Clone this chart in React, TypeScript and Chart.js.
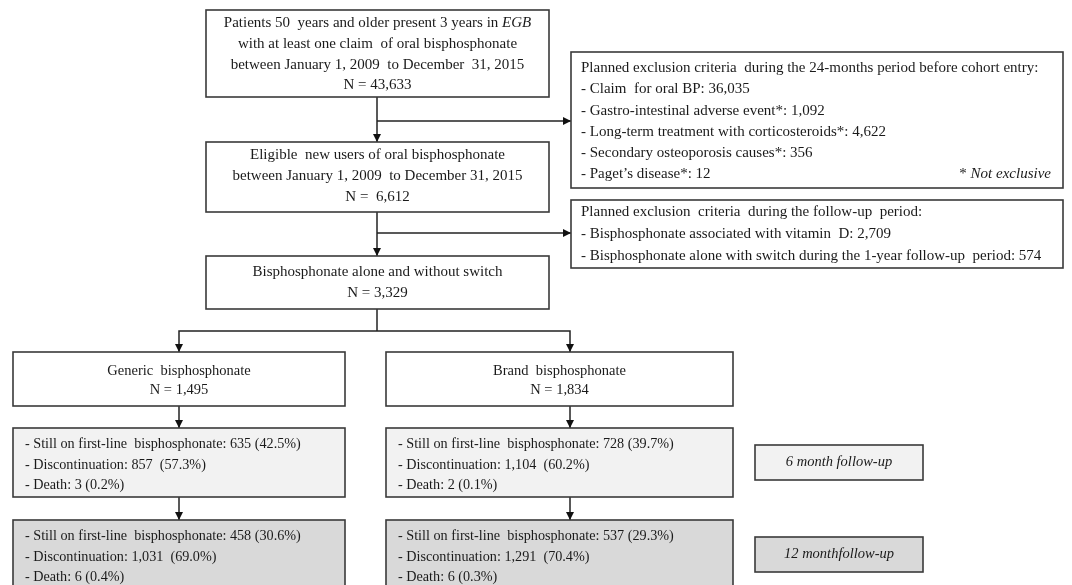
import React, { useEffect, useRef } from "react";
import { Chart, registerables } from "chart.js";

Chart.register(...registerables);

// ---------------- DATA ----------------
const cohortTitles: string[][] = [
  ["Patients 50  years and older present 3 years in |EGB|", "with at least one claim  of oral bisphosphonate", "between January 1, 2009  to December  31, 2015"],
  ["Eligible  new users of oral bisphosphonate", "between January 1, 2009  to December 31, 2015"],
  ["Bisphosphonate alone and without switch"],
  ["Generic  bisphosphonate"],
  ["Brand  bisphosphonate"],
];
const cohortCounts = [43633, 6612, 3329, 1495, 1834];

const preEntryTitle = "Planned exclusion criteria  during the 24-months period before cohort entry:";
const preEntryCriteria = [
  "Claim  for oral BP",
  "Gastro-intestinal adverse event*",
  "Long-term treatment with corticosteroids*",
  "Secondary osteoporosis causes*",
  "Paget\u2019s disease*",
];
const preEntryCounts = [36035, 1092, 4622, 356, 12];
const preEntryNote = "* Not exclusive";

const followUpTitle = "Planned exclusion  criteria  during the follow-up  period:";
const followUpCriteria = [
  "Bisphosphonate associated with vitamin  D",
  "Bisphosphonate alone with switch during the 1-year follow-up  period",
];
const followUpCounts = [2709, 574];

const outcomeLabels = ["Still on first-line  bisphosphonate", "Discontinuation", "Death"];
const generic6m = [635, 857, 3];
const generic6mPct = [42.5, 57.3, 0.2];
const brand6m = [728, 1104, 2];
const brand6mPct = [39.7, 60.2, 0.1];
const generic12m = [458, 1031, 6];
const generic12mPct = [30.6, 69.0, 0.4];
const brand12m = [537, 1291, 6];
const brand12mPct = [29.3, 70.4, 0.3];

const periodLabels = ["6 month follow-up", "12 monthfollow-up"];

// ---------------- LAYOUT (data space = 1072 x 585) ----------------
const W = 1072;
const H = 585;
const LIGHT = "#f2f2f2";
const DARK = "#d9d9d9";
const BORDER = "#3a3a3a";
const FONT = "'Liberation Serif', 'Times New Roman', serif";

type Box = {
  x0: number; x1: number; y0: number; y1: number; fill: string;
  lines: string[]; firstY: number; lh: number; align: "center" | "left"; tx?: number;
  italic?: boolean; size: number; note?: string;
};

const fmt = (n: number) => n.toLocaleString("en-US");
const outcomeLines = (vals: number[], pcts: number[]) =>
  outcomeLabels.map((l, i) => `- ${l}: ${fmt(vals[i])}${i === 1 ? "  " : " "}(${pcts[i].toFixed(1)}%)`);

function buildBoxes(): Box[] {
  const nLine = (i: number) => (i === 1 ? `N =  ${fmt(cohortCounts[i])}` : `N = ${fmt(cohortCounts[i])}`);
  return [
    { x0: 206, x1: 549, y0: 10, y1: 97, fill: "#fff", lines: [...cohortTitles[0], nLine(0)], firstY: 23, lh: 20.8, align: "center", size: 15 },
    { x0: 206, x1: 549, y0: 142, y1: 212, fill: "#fff", lines: [...cohortTitles[1], nLine(1)], firstY: 155, lh: 20.8, align: "center", size: 15 },
    { x0: 206, x1: 549, y0: 256, y1: 309, fill: "#fff", lines: [...cohortTitles[2], nLine(2)], firstY: 272, lh: 21.5, align: "center", size: 15 },
    { x0: 13, x1: 345, y0: 352, y1: 406, fill: "#fff", lines: [...cohortTitles[3], nLine(3)], firstY: 371, lh: 19.5, align: "center", size: 14.5 },
    { x0: 386, x1: 733, y0: 352, y1: 406, fill: "#fff", lines: [...cohortTitles[4], nLine(4)], firstY: 371, lh: 19.5, align: "center", size: 14.5 },
    {
      x0: 571, x1: 1063, y0: 52, y1: 188, fill: "#fff",
      lines: [preEntryTitle, ...preEntryCriteria.map((c, i) => `- ${c}: ${fmt(preEntryCounts[i])}`)],
      firstY: 68, lh: 21.3, align: "left", tx: 581, size: 15, note: preEntryNote,
    },
    {
      x0: 571, x1: 1063, y0: 200, y1: 268, fill: "#fff",
      lines: [followUpTitle, ...followUpCriteria.map((c, i) => `- ${c}: ${fmt(followUpCounts[i])}`)],
      firstY: 212.5, lh: 22, align: "left", tx: 581, size: 15,
    },
    { x0: 13, x1: 345, y0: 428, y1: 497, fill: LIGHT, lines: outcomeLines(generic6m, generic6mPct), firstY: 444, lh: 20.8, align: "left", tx: 25, size: 14.2 },
    { x0: 386, x1: 733, y0: 428, y1: 497, fill: LIGHT, lines: outcomeLines(brand6m, brand6mPct), firstY: 444, lh: 20.8, align: "left", tx: 398, size: 14.2 },
    { x0: 13, x1: 345, y0: 520, y1: 595, fill: DARK, lines: outcomeLines(generic12m, generic12mPct), firstY: 536.5, lh: 20.5, align: "left", tx: 25, size: 14.2 },
    { x0: 386, x1: 733, y0: 520, y1: 595, fill: DARK, lines: outcomeLines(brand12m, brand12mPct), firstY: 536.5, lh: 20.5, align: "left", tx: 398, size: 14.2 },
    { x0: 755, x1: 923, y0: 445, y1: 480, fill: LIGHT, lines: [periodLabels[0]], firstY: 462.5, lh: 20, align: "center", italic: true, size: 14.5 },
    { x0: 755, x1: 923, y0: 537, y1: 572, fill: DARK, lines: [periodLabels[1]], firstY: 554.5, lh: 20, align: "center", italic: true, size: 14.5 },
  ];
}

// connectors
type Conn = { pts: number[][]; arrow: boolean };
const connectors: Conn[] = [
  { pts: [[377, 97], [377, 142]], arrow: true },
  { pts: [[377, 121], [571, 121]], arrow: true },
  { pts: [[377, 212], [377, 256]], arrow: true },
  { pts: [[377, 233], [571, 233]], arrow: true },
  { pts: [[377, 309], [377, 331]], arrow: false },
  { pts: [[377, 331], [179, 331], [179, 352]], arrow: true },
  { pts: [[377, 331], [570, 331], [570, 352]], arrow: true },
  { pts: [[179, 406], [179, 428]], arrow: true },
  { pts: [[570, 406], [570, 428]], arrow: true },
  { pts: [[179, 497], [179, 520]], arrow: true },
  { pts: [[570, 497], [570, 520]], arrow: true },
];

function drawRich(ctx: CanvasRenderingContext2D, line: string, x: number, y: number, align: string, size: number, italicAll: boolean) {
  const parts = line.split("|");
  const fonts = parts.map((_, i) => `${italicAll || i % 2 === 1 ? "italic " : ""}${size}px ${FONT}`);
  let total = 0;
  const widths = parts.map((p, i) => {
    ctx.font = fonts[i];
    const w = ctx.measureText(p).width;
    total += w;
    return w;
  });
  let cx = align === "center" ? x - total / 2 : align === "right" ? x - total : x;
  ctx.textAlign = "left";
  ctx.textBaseline = "middle";
  parts.forEach((p, i) => {
    ctx.font = fonts[i];
    ctx.fillText(p, cx, y);
    cx += widths[i];
  });
}

const flowPlugin = {
  id: "flow",
  afterDraw(chart: any) {
    const ctx: CanvasRenderingContext2D = chart.ctx;
    const xs = chart.scales.x;
    const ys = chart.scales.y;
    const X = (v: number) => xs.getPixelForValue(v);
    const Y = (v: number) => ys.getPixelForValue(v);
    ctx.save();
    ctx.fillStyle = "#fff";
    ctx.fillRect(0, 0, chart.width, chart.height);

    // connectors
    ctx.strokeStyle = "#222";
    ctx.fillStyle = "#111";
    ctx.lineWidth = 1.5;
    connectors.forEach(({ pts, arrow }) => {
      ctx.beginPath();
      pts.forEach(([px, py], i) => (i === 0 ? ctx.moveTo(X(px), Y(py)) : ctx.lineTo(X(px), Y(py))));
      ctx.stroke();
      if (!arrow) return;
      const [ax, ay] = pts[pts.length - 1];
      const [bx, by] = pts[pts.length - 2];
      const ex = X(ax), ey = Y(ay);
      const dx = Math.sign(X(ax) - X(bx)), dy = Math.sign(Y(ay) - Y(by));
      const L = 8, Wd = 4;
      ctx.beginPath();
      ctx.moveTo(ex, ey);
      ctx.lineTo(ex - dx * L - dy * Wd, ey - dy * L - dx * Wd);
      ctx.lineTo(ex - dx * L + dy * Wd, ey - dy * L + dx * Wd);
      ctx.closePath();
      ctx.fill();
    });

    // boxes
    buildBoxes().forEach((b) => {
      const x0 = X(b.x0), x1 = X(b.x1), y0 = Y(b.y0), y1 = Y(b.y1);
      ctx.fillStyle = b.fill;
      ctx.fillRect(x0, y0, x1 - x0, y1 - y0);
      ctx.strokeStyle = BORDER;
      ctx.lineWidth = 1.6;
      ctx.strokeRect(x0, y0, x1 - x0, y1 - y0);
      ctx.fillStyle = "#1a1a1a";
      b.lines.forEach((ln, i) => {
        const ty = Y(b.firstY + i * b.lh);
        const tx = b.align === "center" ? (x0 + x1) / 2 : X(b.tx as number);
        drawRich(ctx, ln, tx, ty, b.align, b.size, !!b.italic);
      });
      if (b.note) {
        const ty = Y(b.firstY + (b.lines.length - 1) * b.lh);
        drawRich(ctx, b.note.replace("Not exclusive", "|Not exclusive|"), X(b.x1 - 12), ty, "right", b.size, false);
      }
    });
    ctx.restore();
  },
};

export default function App() {
  const ref = useRef<HTMLCanvasElement | null>(null);
  useEffect(() => {
    document.body.style.margin = "0";
    const canvas = ref.current;
    if (!canvas) return;
    const chart = new Chart(canvas, {
      type: "scatter",
      data: { datasets: [{ data: [], pointRadius: 0 }] },
      options: {
        animation: false,
        responsive: false,
        devicePixelRatio: 1,
        layout: { padding: 0 },
        plugins: { legend: { display: false }, tooltip: { enabled: false } },
        scales: {
          x: { type: "linear", min: 0, max: W, display: false },
          y: { type: "linear", min: 0, max: H, reverse: true, display: false },
        },
      },
      plugins: [flowPlugin],
    });
    return () => chart.destroy();
  }, []);
  return <canvas ref={ref} width={W} height={H} style={{ display: "block", width: W, height: H }} />;
}
